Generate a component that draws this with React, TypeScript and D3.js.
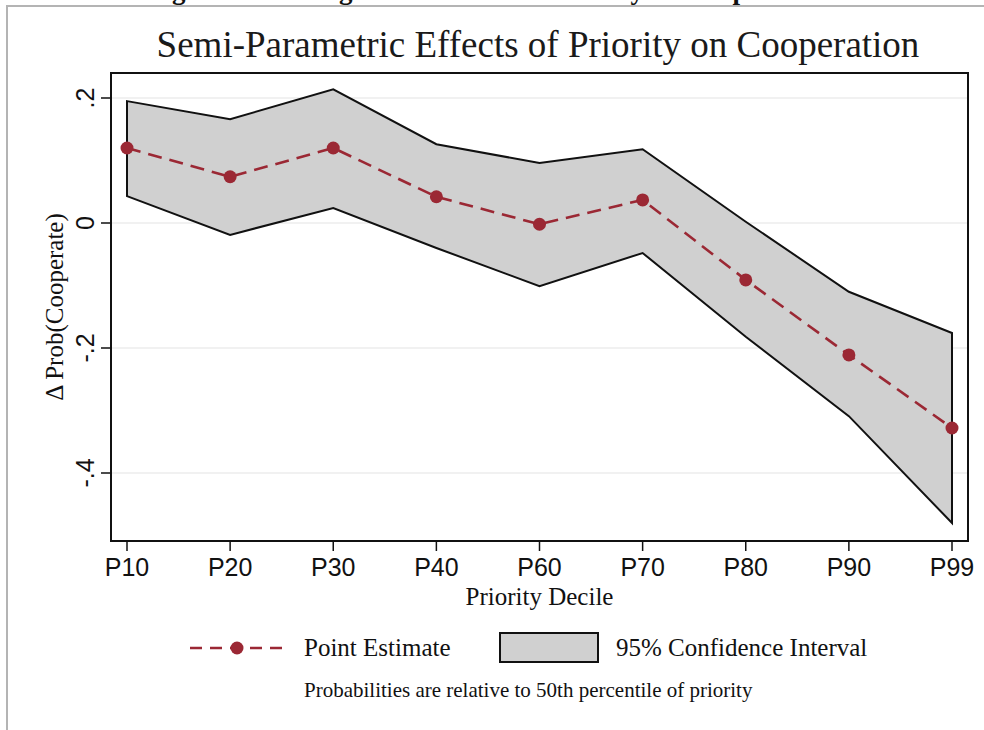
import * as d3 from "d3";

const DECILES = ["P10", "P20", "P30", "P40", "P60", "P70", "P80", "P90", "P99"];
const ESTIMATE = [0.12, 0.074, 0.12, 0.042, -0.002, 0.037, -0.091, -0.211, -0.328];
const UPPER = [0.195, 0.166, 0.214, 0.126, 0.096, 0.118, 0.002, -0.11, -0.176];
const LOWER = [0.043, -0.019, 0.024, -0.04, -0.101, -0.048, -0.182, -0.309, -0.48];
const Y_TICKS = [0.2, 0, -0.2, -0.4];

const W = 984, H = 730;
const plot = { left: 111, right: 968, top: 73, bottom: 541 };

const SANS = "'Liberation Sans', Arial, sans-serif";
const SERIF = "'Liberation Serif', 'Times New Roman', serif";
const RED = "#9b2834";
const BAND = "#d0d0d0";

const fmtY = (d: number) => (d === 0 ? "0" : String(d).replace("0.", "."));

export default function App() {
  const x = d3.scalePoint<string>().domain(DECILES).range([127, 952]);
  const y = d3.scaleLinear().domain([-0.4, 0.2]).range([473, 98]);

  const rows = DECILES.map((k, i) => ({ k, est: ESTIMATE[i], hi: UPPER[i], lo: LOWER[i] }));

  const band = d3.area<typeof rows[0]>()
    .x(d => x(d.k)!)
    .y0(d => y(d.lo))
    .y1(d => y(d.hi))(rows)!;

  const estLine = d3.line<typeof rows[0]>()
    .x(d => x(d.k)!)
    .y(d => y(d.est))(rows)!;

  const midX = (plot.left + plot.right) / 2;
  const midY = (plot.top + plot.bottom) / 2;

  return (
    <svg width={W} height={H} style={{ position: "absolute", left: 0, top: 0, background: "#fff" }}>
      {/* cut-off heading from the page above */}
      <text x={148} y={-1} fontFamily={SERIF} fontWeight="bold" fontSize={27} fill="#111">
        Figure 4: Heterogeneous Effects of Priority on Cooperation
      </text>
      {/* outer grey frame */}
      <path d={`M7,${H} V6 H${W}`} fill="none" stroke="#b4b4b4" strokeWidth={2} />

      <text x={538} y={57} textAnchor="middle" fontFamily={SERIF} fontSize={37} fill="#1a1a1a">
        Semi-Parametric Effects of Priority on Cooperation
      </text>

      {/* gridlines */}
      {Y_TICKS.map(t => (
        <line key={t} x1={plot.left} x2={plot.right} y1={y(t)} y2={y(t)} stroke="#ececec" strokeWidth={1.5} />
      ))}

      {/* CI band */}
      <path d={band} fill={BAND} stroke="#111" strokeWidth={2} strokeLinejoin="miter" />

      {/* point estimate */}
      <path d={estLine} fill="none" stroke={RED} strokeWidth={2.6} strokeDasharray="14 8" />
      {rows.map(d => (
        <circle key={d.k} cx={x(d.k)} cy={y(d.est)} r={6.5} fill={RED} />
      ))}

      {/* plot frame */}
      <rect x={plot.left} y={plot.top} width={plot.right - plot.left} height={plot.bottom - plot.top}
        fill="none" stroke="#111" strokeWidth={2} />

      {/* y axis */}
      {Y_TICKS.map(t => (
        <g key={t}>
          <line x1={plot.left - 10} x2={plot.left} y1={y(t)} y2={y(t)} stroke="#111" strokeWidth={1.5} />
          <text transform={`translate(94,${y(t)}) rotate(-90)`} textAnchor="middle"
            fontFamily={SANS} fontSize={25} fill="#111">{fmtY(t)}</text>
        </g>
      ))}
      <text transform={`translate(63,${midY}) rotate(-90)`} textAnchor="middle"
        fontFamily={SERIF} fontSize={25} fill="#111">Δ Prob(Cooperate)</text>

      {/* x axis */}
      {DECILES.map(k => (
        <g key={k}>
          <line x1={x(k)} x2={x(k)} y1={plot.bottom} y2={plot.bottom + 10} stroke="#111" strokeWidth={1.5} />
          <text x={x(k)} y={576} textAnchor="middle" fontFamily={SANS} fontSize={25} fill="#111">{k}</text>
        </g>
      ))}
      <text x={midX} y={605} textAnchor="middle" fontFamily={SERIF} fontSize={25} fill="#111">Priority Decile</text>

      {/* legend */}
      <line x1={190} x2={285} y1={648} y2={648} stroke={RED} strokeWidth={2.6} strokeDasharray="12 8" />
      <circle cx={237} cy={648} r={6.5} fill={RED} />
      <text x={304} y={656} fontFamily={SERIF} fontSize={25} fill="#111">Point Estimate</text>
      <rect x={500} y={633} width={98} height={29} fill={BAND} stroke="#111" strokeWidth={2} />
      <text x={616} y={656} fontFamily={SERIF} fontSize={25} fill="#111">95% Confidence Interval</text>

      <text x={304} y={697} fontFamily={SERIF} fontSize={21} fill="#111">
        Probabilities are relative to 50th percentile of priority
      </text>
    </svg>
  );
}
